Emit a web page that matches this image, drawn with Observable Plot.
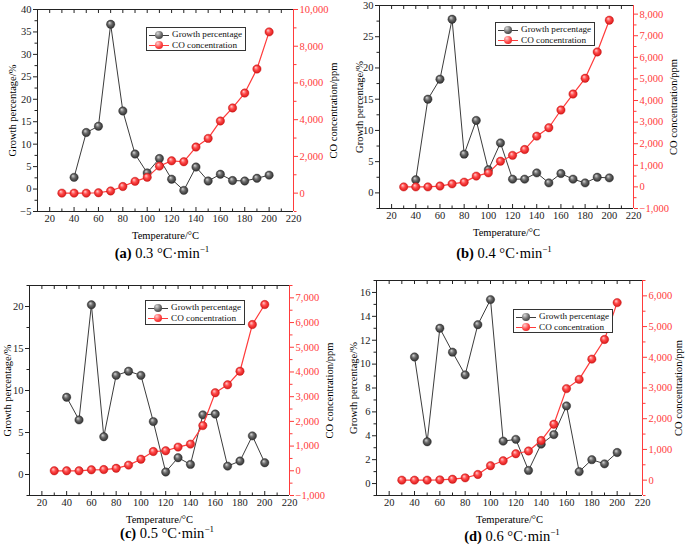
<!DOCTYPE html>
<html><head><meta charset="utf-8">
<script src="https://cdn.jsdelivr.net/npm/d3@7"></script>
<script src="https://cdn.jsdelivr.net/npm/@observablehq/plot@0.6"></script>
<style>
body{margin:0;background:#fff;}
#root{position:relative;width:685px;height:547px;overflow:hidden;font-family:"Liberation Serif","Times New Roman",serif;}
.panel{position:absolute;}
.panel svg{overflow:visible;}
.legend{position:absolute;border:1px solid #333;background:#fff;font-size:9.2px;line-height:10.5px;padding:1px 3px 1px 2px;box-sizing:border-box;white-space:nowrap;color:#111;}
.row{height:10.5px;}
.sw{display:inline-block;position:relative;width:20px;height:10px;vertical-align:middle;margin-right:3px;}
.sw::before{content:"";position:absolute;left:0;right:0;top:5px;border-top:1px solid var(--c);}
.sw i{position:absolute;left:6px;top:1px;width:8px;height:8px;border-radius:50%;background:radial-gradient(circle at 35% 30%, var(--h), var(--m) 50%, var(--d));}
.cap{position:absolute;transform:translate(-50%,-50%);font-size:14.5px;white-space:nowrap;color:#000;}
</style></head>
<body>
<svg width="0" height="0" style="position:absolute">
  <defs>
    <radialGradient id="ballGray" cx="50%" cy="50%" r="55%" fx="35%" fy="30%">
      <stop offset="0%" stop-color="#d8d8d8"/>
      <stop offset="45%" stop-color="#6a6a6a"/>
      <stop offset="100%" stop-color="#262626"/>
    </radialGradient>
    <radialGradient id="ballRed" cx="50%" cy="50%" r="55%" fx="35%" fy="30%">
      <stop offset="0%" stop-color="#ffd0d0"/>
      <stop offset="45%" stop-color="#ff4a4a"/>
      <stop offset="100%" stop-color="#d41010"/>
    </radialGradient>
  </defs>
</svg>
<div id="root"></div>
<script>
// ---------- data ----------
const tempsGrowth = [40,50,60,70,80,90,100,110,120,130,140,150,160,170,180,190,200];
const tempsCO = [30,40,50,60,70,80,90,100,110,120,130,140,150,160,170,180,190,200];

const growthA = [2.6,12.6,14.0,36.7,17.4,7.8,3.6,6.8,2.2,-0.3,4.9,1.8,3.3,1.9,1.8,2.4,3.1];
const coA = [0,0,0,20,120,360,640,860,1470,1760,1710,2510,2980,3930,4640,5450,6760,8780];

const growthB = [2.1,15.0,18.2,27.8,6.2,11.6,3.7,8.0,2.2,2.2,3.2,1.6,3.1,2.2,1.6,2.5,2.4];
const coB = [0,0,0,40,140,220,500,650,1190,1460,1730,2350,2740,3560,4300,5030,6250,7720];

const growthC = [9.2,6.5,20.2,4.5,11.8,12.3,11.8,6.3,0.3,2.0,1.2,7.1,7.2,1.0,1.6,4.6,1.4];
const coC = [0,0,0,40,50,100,230,470,780,810,960,1080,1830,3160,3480,4030,5920,6730];

const growthD = [10.6,3.5,13.0,11.0,9.1,13.3,15.4,3.55,3.7,1.1,3.3,4.1,6.5,1.0,2.0,1.65,2.6];
const coD = [0,0,0,10,30,75,185,470,630,860,950,1290,1820,2980,3280,3940,4580,5780];

const xMajor = [20,40,60,80,100,120,140,160,180,200,220];
const xMinor = [30,50,70,90,110,130,150,170,190,210];

const leftTicksA = [-5,0,5,10,15,20,25,30,35,40];
const leftTicksB = [0,5,10,15,20,25,30];
const leftTicksC = [0,5,10,15,20];
const leftTicksD = [0,2,4,6,8,10,12,14,16];

const rightTicksA = [0,2000,4000,6000,8000,10000];
const rightTicksB = [-1000,0,1000,2000,3000,4000,5000,6000,7000,8000];
const rightTicksC = [-1000,0,1000,2000,3000,4000,5000,6000,7000];
const rightTicksD = [0,1000,2000,3000,4000,5000,6000];

const seriesNames = ["Growth percentage", "CO concentration"];
const xTitle = "Temperature/°C";
const yLeftTitle = "Growth percentage/%";
const yRightTitle = "CO concentration/ppm";
const captionLetters = ["(a)","(b)","(c)","(d)"];
const captionRates = ["0.3","0.4","0.5","0.6"];

// ---------- layout / styles ----------
const RED = "#ff3b3b";
const AX = "#222";
const panels = [
  {growth: growthA, co: coA, left: leftTicksA, right: rightTicksA, leftStep: 2.5, rightStep: 1000,
   yDom: [-5,40], rDom: [-1000,10000], pos:[0,0], w:342, h:245, m:[9,49,34,37],
   ldx:-25, rdx:40, leg:[146,27,24], cap:[162,253]},
  {growth: growthB, co: coB, left: leftTicksB, right: rightTicksB, leftStep: 2.5, rightStep: 500,
   yDom: [-2.5,30], rDom: [-1000,8400], pos:[342,0], w:343, h:245, m:[5,52,37,37],
   ldx:-20, rdx:40, leg:[495,22,24], cap:[504,253]},
  {growth: growthC, co: coC, left: leftTicksC, right: rightTicksC, leftStep: 2.5, rightStep: 500,
   yDom: [-2.5,22.5], rDom: [-1000,7500], pos:[0,270], w:342, h:257, m:[15,53,32,29],
   ldx:-22, rdx:40, leg:[145,300,25], cap:[167,533]},
  {growth: growthD, co: coD, left: leftTicksD, right: rightTicksD, leftStep: 1, rightStep: 500,
   yDom: [-1,17], rDom: [-500,6500], pos:[342,270], w:343, h:257, m:[10,43,32,34],
   ldx:-23, rdx:36, leg:[513,309,24], cap:[512,536]}
];

const root = document.getElementById("root");
const fmt = d3.format(",");
const xDom = [10,220];

panels.forEach((p, i) => {
  const toL = d3.scaleLinear().domain(p.rDom).range(p.yDom);
  const gData = tempsGrowth.map((t, k) => ({t, v: p.growth[k]}));
  const cData = tempsCO.map((t, k) => ({t, v: toL(p.co[k])}));
  const leftMinor = d3.range(p.yDom[0], p.yDom[1] + 1e-9, p.leftStep).filter(v => !p.left.some(m => Math.abs(m - v) < 1e-9));
  const rightMinor = d3.range(Math.ceil(p.rDom[0] / p.rightStep) * p.rightStep, p.rDom[1] + 1e-9, p.rightStep)
    .filter(v => !p.right.includes(v)).map(v => toL(v));

  const chart = Plot.plot({
    width: p.w, height: p.h,
    marginTop: p.m[0], marginRight: p.m[1], marginBottom: p.m[2], marginLeft: p.m[3],
    x: {domain: xDom},
    y: {domain: p.yDom},
    style: {fontFamily: '"Liberation Serif","Times New Roman",serif', fontSize: "10.5px", background: "transparent", color: AX},
    marks: [
      Plot.axisX(xMinor, {anchor: "bottom", tickSize: -2.5, tickFormat: () => "", label: null, color: AX}),
      Plot.axisX(xMajor, {anchor: "bottom", tickSize: -4, tickPadding: 7, label: null, color: AX}),
      Plot.axisX(xMinor.concat(xMajor), {anchor: "top", tickSize: -3, tickFormat: () => "", label: null, color: AX}),
      Plot.axisY(leftMinor, {anchor: "left", tickSize: 2.5, tickFormat: () => "", label: null, color: AX}),
      Plot.axisY(p.left, {anchor: "left", tickSize: 4, tickPadding: 2, label: null, color: AX}),
      Plot.axisY(rightMinor, {anchor: "right", tickSize: 2.5, tickFormat: () => "", label: null, color: RED}),
      Plot.axisY(p.right.map(v => toL(v)), {anchor: "right", tickSize: 4, tickPadding: 2, label: null, color: RED,
        tickFormat: v => fmt(Math.round(toL.invert(v)))}),
      Plot.ruleY([p.yDom[0], p.yDom[1]], {stroke: AX, strokeWidth: 1}),
      Plot.ruleX([xDom[0]], {stroke: AX, strokeWidth: 1}),
      Plot.ruleX([xDom[1]], {stroke: RED, strokeWidth: 1}),
      Plot.line(gData, {x: "t", y: "v", stroke: "#3c3c3c", strokeWidth: 1}),
      Plot.dot(gData, {x: "t", y: "v", r: 4.2, fill: "url(#ballGray)", stroke: "#2a2a2a", strokeWidth: 0.4}),
      Plot.line(cData, {x: "t", y: "v", stroke: RED, strokeWidth: 1.2}),
      Plot.dot(cData, {x: "t", y: "v", r: 4.2, fill: "url(#ballRed)", stroke: "#c01010", strokeWidth: 0.4}),
      Plot.text([xTitle], {text: d => d, frameAnchor: "bottom", dy: 24, lineAnchor: "middle", fontSize: 10.5, fill: "#000"}),
      Plot.text([yLeftTitle], {text: d => d, frameAnchor: "left", dx: p.ldx, rotate: -90, lineAnchor: "middle", textAnchor: "middle", fontSize: 10.5, fill: "#000"}),
      Plot.text([yRightTitle], {text: d => d, frameAnchor: "right", dx: p.rdx, rotate: -90, lineAnchor: "middle", textAnchor: "middle", fontSize: 10.5, fill: "#000"})
    ]
  });
  const div = document.createElement("div");
  div.className = "panel";
  div.style.left = p.pos[0] + "px";
  div.style.top = p.pos[1] + "px";
  div.appendChild(chart);
  root.appendChild(div);

  // legend
  const leg = document.createElement("div");
  leg.className = "legend";
  leg.style.left = p.leg[0] + "px";
  leg.style.top = p.leg[1] + "px";
  leg.style.height = p.leg[2] + "px";
  const styles = [
    "--c:#3c3c3c;--h:#d8d8d8;--m:#6a6a6a;--d:#262626",
    "--c:" + RED + ";--h:#ffd0d0;--m:#ff4a4a;--d:#d41010"
  ];
  leg.innerHTML = seriesNames.map((n, k) =>
    `<div class="row"><span class="sw" style="${styles[k]}"><i></i></span>${n}</div>`).join("");
  root.appendChild(leg);

  // caption
  const cap = document.createElement("div");
  cap.className = "cap";
  cap.style.left = p.cap[0] + "px";
  cap.style.top = p.cap[1] + "px";
  cap.innerHTML = `<b>${captionLetters[i]}</b> ${captionRates[i]} °C·min<sup style="font-size:9px">−1</sup>`;
  root.appendChild(cap);
});
</script>
</body></html>
